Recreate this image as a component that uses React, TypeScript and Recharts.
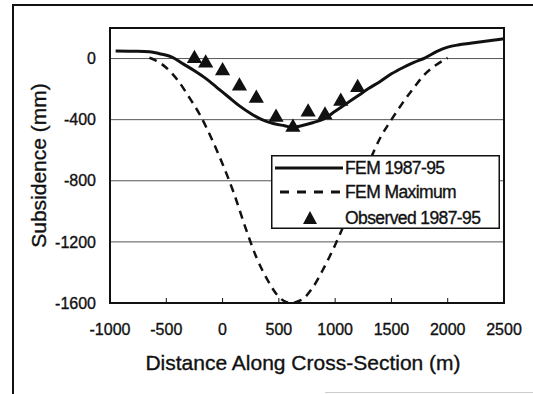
import { CartesianGrid, ComposedChart, Label, Legend, Line, ReferenceArea, Scatter, XAxis, YAxis, ZAxis } from 'recharts';

// tick labels
const xTicks = [-1000, -500, 0, 500, 1000, 1500, 2000, 2500];
const yTicks = [-1600, -1200, -800, -400, 0];

const seriesNames = ['FEM 1987-95', 'FEM Maximum', 'Observed 1987-95'];

// FEM 1987-95 (solid)
const femDist = [-950, -800, -650, -550, -450, -350, -250, -150, -50, 50, 150, 250, 350, 450, 550, 620, 700, 800, 900, 1000, 1100, 1200, 1300, 1400, 1500, 1600, 1700, 1800, 1900, 2000, 2100, 2200, 2300, 2400, 2500];
const femSub = [50, 48, 45, 30, 10, -35, -80, -130, -190, -250, -310, -360, -400, -425, -440, -450, -440, -420, -395, -345, -295, -245, -195, -150, -100, -60, -25, 5, 45, 75, 90, 100, 110, 120, 130];

// FEM Maximum (dashed)
const maxDist = [-650, -600, -500, -400, -300, -200, -100, 0, 100, 200, 300, 400, 500, 600, 700, 800, 900, 1000, 1100, 1200, 1300, 1400, 1500, 1600, 1700, 1800, 1900, 2000];
const maxSub = [5, -10, -60, -140, -250, -370, -520, -690, -880, -1100, -1300, -1450, -1560, -1600, -1580, -1500, -1370, -1220, -1050, -860, -680, -520, -400, -290, -190, -100, -40, 5];

// Observed 1987-95 (triangles)
const obsDist = [-250, -150, 0, 150, 300, 475, 625, 760, 910, 1050, 1200];
const obsSub = [0, -30, -80, -180, -260, -385, -450, -350, -370, -280, -190];

const toPoints = (xs: number[], ys: number[]) => xs.map((x, i) => ({ x, y: ys[i] }));

const femData = toPoints(femDist, femSub);
const maxData = toPoints(maxDist, maxSub);
const obsData = toPoints(obsDist, obsSub);

const font = '"Liberation Sans", Arial, sans-serif';
const ink = '#111';
// scanned text looks a bit heavier than plain regular
const heavy = { stroke: ink, strokeWidth: 0.35 };

const LegendBox = () => (
    <svg width={229} height={74} style={{ display: 'block' }}>
        <rect x={0.75} y={0.75} width={227.5} height={72.5} fill="#fff" stroke={ink} strokeWidth={1.5} />
        <line x1={4} x2={72} y1={13} y2={13} stroke={ink} strokeWidth={3} />
        <line x1={4} x2={72} y1={37} y2={37} stroke={ink} strokeWidth={3} strokeDasharray="9 8" strokeDashoffset={-5} />
        <path d="M39 56 L46 69 L32 69 Z" fill={ink} />
        {seriesNames.map((name, i) => (
            <text key={name} x={74} y={[19, 43, 69][i]} fontFamily={font} fontSize={17.5} fill={ink} letterSpacing={-0.6} {...heavy}>
                {name}
            </text>
        ))}
    </svg>
);

const Chart = () => {
    return (
        <div style={{ position: 'absolute', left: 0, top: 0, width: 533, height: 394, background: '#fff' }}>
            <div style={{ position: 'absolute', left: 12, top: 5, width: 2, height: 389, background: ink }} />
            <div style={{ position: 'absolute', left: 12, top: 4, width: 521, height: 2, background: ink }} />
            <div style={{ position: 'absolute', left: 325, top: 392, width: 208, height: 1, background: '#ccc' }} />
            <ComposedChart width={533} height={394} margin={{ top: 28, right: 29, bottom: 31, left: 0 }}>
                <CartesianGrid vertical={false} stroke="#555" strokeWidth={1} />
                <XAxis
                    type="number"
                    dataKey="x"
                    domain={[-1000, 2500]}
                    ticks={xTicks}
                    height={60}
                    tickSize={-5}
                    tickMargin={26}
                    stroke={ink}
                    axisLine={false}
                    tick={{ fontFamily: font, fontSize: 16, fill: ink, ...heavy }}
                >
                    <Label
                        content={({ viewBox }: any) => (
                            <text
                                x={viewBox.x + viewBox.width / 2 - 4}
                                y={370}
                                textAnchor="middle"
                                fontFamily={font}
                                fontSize={21}
                                fill={ink}
                                {...heavy}
                            >
                                Distance Along Cross-Section (m)
                            </text>
                        )}
                    />
                </XAxis>
                <YAxis
                    type="number"
                    dataKey="y"
                    domain={[-1600, 200]}
                    ticks={yTicks}
                    width={110}
                    tickLine={false}
                    axisLine={false}
                    tickSize={0}
                    tickMargin={14}
                    tick={{ fontFamily: font, fontSize: 16, fill: ink, ...heavy }}
                >
                    <Label
                        content={({ viewBox }: any) => (
                            <text
                                transform={`translate(38.5, ${viewBox.y + viewBox.height / 2}) rotate(-90)`}
                                textAnchor="middle"
                                dy="0.36em"
                                fontFamily={font}
                                fontSize={21}
                                fill={ink}
                                {...heavy}
                            >
                                Subsidence (mm)
                            </text>
                        )}
                    />
                </YAxis>
                <ZAxis range={[100, 100]} />
                <ReferenceArea x1={-1000} x2={2500} y1={-1600} y2={200} fill="none" stroke={ink} strokeWidth={2} />
                <Line
                    data={maxData}
                    dataKey="y"
                    name={seriesNames[1]}
                    type="monotone"
                    stroke={ink}
                    strokeWidth={2.5}
                    strokeDasharray="8 6"
                    dot={false}
                    isAnimationActive={false}
                />
                <Line
                    data={femData}
                    dataKey="y"
                    name={seriesNames[0]}
                    type="monotone"
                    stroke={ink}
                    strokeWidth={3}
                    dot={false}
                    isAnimationActive={false}
                />
                <Scatter
                    data={obsData}
                    dataKey="y"
                    name={seriesNames[2]}
                    shape="triangle"
                    fill={ink}
                    legendType="triangle"
                    isAnimationActive={false}
                />
                <Legend
                    layout="horizontal"
                    verticalAlign="middle"
                    align="center"
                    content={() => <LegendBox />}
                    wrapperStyle={{ left: 271, top: 155, width: 229, height: 74, bottom: 'auto', right: 'auto' }}
                />
            </ComposedChart>
        </div>
    );
};

export default Chart;
